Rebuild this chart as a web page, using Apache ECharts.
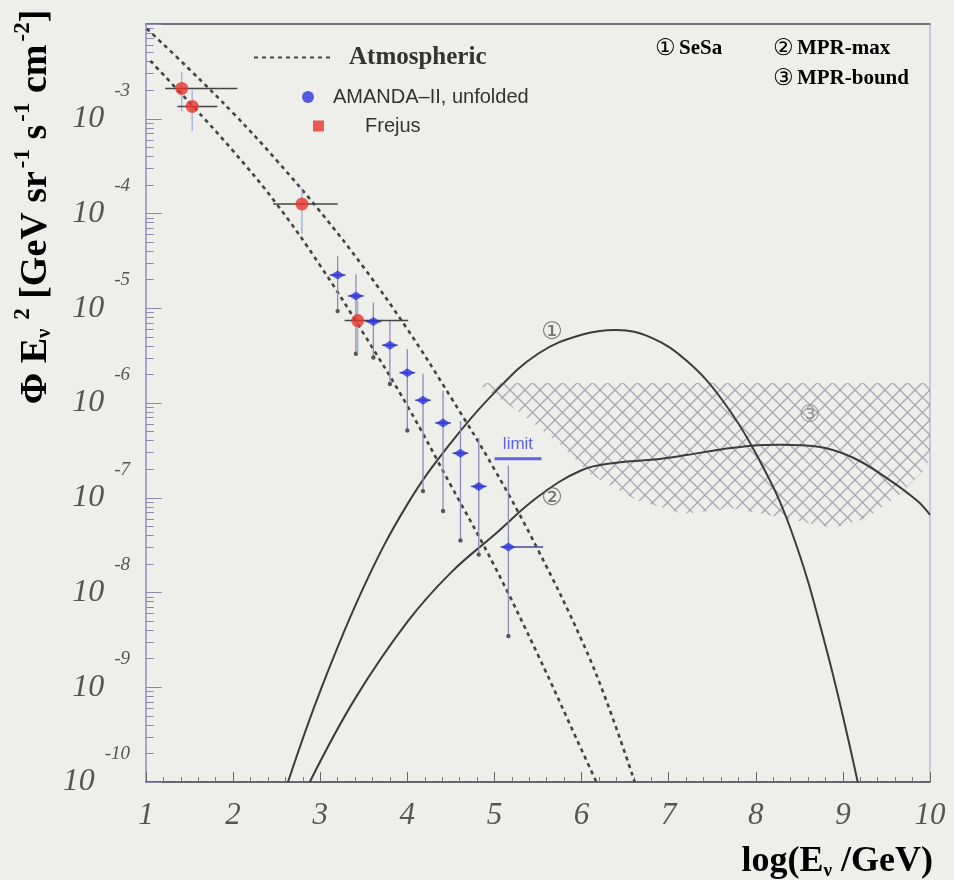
<!DOCTYPE html>
<html><head><meta charset="utf-8">
<script src="https://cdn.jsdelivr.net/npm/echarts@6/dist/echarts.min.js"></script>
<style>html,body{margin:0;padding:0;background:#eeeeea}#c{width:954px;height:880px}</style>
</head><body><div id="c"></div><script>
// ---- axis structure ----
const xTickValues = [1,2,3,4,5,6,7,8,9,10];
const yDecades = [-10,-9,-8,-7,-6,-5,-4,-3,-2];
const yMinorFactors = [2,3,4,5,6,7,8,9];

// ---- Atmospheric band (x = log10(E/GeV), y = log10 flux) ----
const atmosHighX = [1.01,1.5,2.0,2.5,3.0,3.5,4.0,4.5,5.0,5.5,6.0,6.3,6.61];
const atmosHighY = [-2.05,-2.48,-2.94,-3.44,-3.98,-4.57,-5.22,-5.94,-6.70,-7.55,-8.50,-9.18,-10.0];
const atmosLowX = [1.05,1.5,2.0,2.5,3.0,3.5,4.0,4.5,5.0,5.5,6.0,6.17];
const atmosLowY = [-2.39,-2.83,-3.34,-3.90,-4.55,-5.27,-6.03,-6.87,-7.72,-8.66,-9.66,-10.0];

// ---- Model curves ----
const sesaX = [2.63,3.0,3.5,4.0,4.5,5.0,5.5,6.0,6.4,6.8,7.2,7.6,8.0,8.4,8.8,9.17];
const sesaY = [-10.0,-9.04,-7.94,-7.07,-6.42,-5.89,-5.48,-5.28,-5.23,-5.31,-5.55,-5.95,-6.53,-7.33,-8.56,-10.0];
const mprMaxX = [2.88,3.4,4.0,4.5,5.0,5.5,6.0,6.4,6.8,7.2,7.6,7.95,8.3,8.7,9.1,9.5,9.85,10.0];
const mprMaxY = [-10.0,-9.12,-8.31,-7.79,-7.39,-6.99,-6.71,-6.63,-6.60,-6.55,-6.49,-6.45,-6.44,-6.46,-6.57,-6.79,-7.03,-7.18];

// ---- MPR-bound hatched region ----
const boundX    = [4.80,5.26,5.75,6.10,6.64,7.17,7.74,8.31,8.89,9.28,9.66,9.92,10.0];
const boundHigh = [-5.79,-5.79,-5.79,-5.79,-5.79,-5.79,-5.79,-5.79,-5.79,-5.79,-5.79,-5.79,-5.79];
const boundLow  = [-5.79,-6.08,-6.43,-6.75,-7.03,-7.17,-7.11,-7.21,-7.32,-7.21,-6.96,-6.72,-6.58];

// ---- AMANDA-II unfolded ----
const amandaX   = [3.20,3.41,3.61,3.80,4.00,4.18,4.41,4.61,4.82,5.16];
const amandaY   = [-4.65,-4.87,-5.14,-5.39,-5.68,-5.97,-6.21,-6.53,-6.88,-7.52];
const amandaYLo = [-5.03,-5.48,-5.52,-5.80,-6.29,-6.93,-7.14,-7.45,-7.60,-8.46];
const amandaYHi = [-4.45,-4.64,-4.94,-5.13,-5.43,-5.69,-5.87,-6.19,-6.37,-6.66];
const amandaXLo = [3.11,3.32,3.52,3.71,3.91,4.09,4.32,4.52,4.73,5.07];
const amandaXHi = [3.29,3.50,3.70,3.89,4.09,4.27,4.50,4.70,4.91,5.56];

// ---- Frejus ----
const frejusX   = [1.41,1.53,2.79,3.43];
const frejusY   = [-2.68,-2.87,-3.90,-5.13];
const frejusYLo = [-2.92,-3.13,-4.21,-5.48];
const frejusYHi = [-2.51,-2.70,-3.73,-4.92];
const frejusXLo = [1.22,1.36,2.46,3.28];
const frejusXHi = [2.05,1.82,3.20,4.01];

// ---- annotations ----
const tagText = ['①','②','③'];
const tagX = [5.66,5.66,8.62];
const tagY = [-5.26,-7.01,-6.13];
const limitX = 5.27, limitY = -6.45;

const SERIF = '"Liberation Serif","Times New Roman",serif';
const SANS = '"Liberation Sans",Arial,sans-serif';
const CIRC = '"DejaVu Sans","Noto Sans CJK SC",sans-serif';

const minorVals = [];
yDecades.slice(0,-1).forEach(n => yMinorFactors.forEach(k => minorVals.push(n + Math.log10(k))));

const zip = (xs, ys) => xs.map((x,i) => [x, ys[i]]);

// hatch pattern
const pc = document.createElement('canvas');
pc.width = 15; pc.height = 15;
const g = pc.getContext('2d');
g.strokeStyle = 'rgba(110,110,135,0.55)';
g.lineWidth = 1.3;
g.beginPath(); g.moveTo(-1,-1); g.lineTo(16,16); g.moveTo(16,-1); g.lineTo(-1,16); g.stroke();

function errRender(vColor, hColor, endDot) {
  return function (params, api) {
    const x = api.value(0), y = api.value(1);
    const xl = api.value(2), xh = api.value(3), yl = api.value(4), yh = api.value(5);
    const a = api.coord([x, yl]), b = api.coord([x, yh]);
    const l = api.coord([xl, y]), r = api.coord([xh, y]);
    const ch = [
      {type:'line', shape:{x1:a[0],y1:a[1],x2:b[0],y2:b[1]}, style:{stroke:vColor, lineWidth:1.3}},
      {type:'line', shape:{x1:l[0],y1:l[1],x2:r[0],y2:r[1]}, style:{stroke:hColor, lineWidth:1.5}}
    ];
    if (endDot) ch.push({type:'circle', shape:{cx:a[0], cy:a[1], r:2.2}, style:{fill:'#555'}});
    return {type:'group', children: ch};
  };
}

const chart = echarts.init(document.getElementById('c'), null, {renderer:'canvas'});
const lineCommon = {type:'line', symbol:'none', smooth:0.4, clip:true, silent:true};
const legendTextRich = {fontFamily:SERIF, fontWeight:'bold', fontSize:21, color:'#444'};

chart.setOption({
  animation:false,
  backgroundColor:'#eeeeea',
  grid:{left:146, right:24, top:24, bottom:98, show:true, borderColor:'#a4a4d0', borderWidth:1, backgroundColor:'transparent'},
  xAxis:[{
    type:'value', min:1, max:10, interval:1,
    axisLine:{lineStyle:{color:'#444', width:1.5}},
    axisTick:{inside:true, length:10, lineStyle:{color:'#666'}},
    minorTick:{show:true, splitNumber:5, length:5, lineStyle:{color:'#777'}},
    splitLine:{show:false},
    axisLabel:{margin:18, fontFamily:SERIF, fontStyle:'italic', fontSize:31, color:'#555'}
  },{
    type:'value', min:1, max:10, position:'top',
    axisLine:{lineStyle:{color:'#555', width:1.5}},
    axisTick:{show:false}, axisLabel:{show:false}, splitLine:{show:false}
  }],
  yAxis:[{
    type:'value', min:-10, max:-2, interval:1, position:'left',
    axisLine:{lineStyle:{color:'#9a9ac8', width:1.5}},
    axisTick:{inside:true, length:16, lineStyle:{color:'#8a8ab0'}},
    splitLine:{show:false},
    axisLabel:{
      margin:16,
      formatter: v => v >= -2 ? '' : '{b|10}{e|' + v + '}',
      rich:{
        b:{fontFamily:SERIF, fontStyle:'italic', fontSize:32, color:'#555'},
        e:{fontFamily:SERIF, fontStyle:'italic', fontSize:19, color:'#555', padding:[0,0,56,10]}
      }
    }
  },{
    type:'value', min:-10, max:-2, position:'left', offset:0,
    axisLine:{show:false}, axisLabel:{show:false}, splitLine:{show:false},
    axisTick:{show:true, inside:true, length:8, customValues:minorVals, lineStyle:{color:'#8a8ab0'}}
  }],
  legend:[{
    data:[{name:'Atmospheric', itemStyle:{opacity:0}}], left:248, top:40, itemWidth:76, itemHeight:26, selectedMode:false,
    itemStyle:{opacity:0},
    textStyle:{fontFamily:SERIF, fontWeight:'bold', fontSize:25, color:'#333', padding:[0,0,0,14]}
  },{
    data:[{name:'AMANDA–II, unfolded', icon:'circle'}], left:297, top:82, itemWidth:12, itemHeight:12, selectedMode:false,
    textStyle:{fontFamily:SANS, fontSize:20, color:'#333', padding:[0,0,0,14]}
  },{
    data:[{name:'Frejus', icon:'rect'}], left:308, top:111, itemWidth:11, itemHeight:11, selectedMode:false,
    textStyle:{fontFamily:SANS, fontSize:20, color:'#333', padding:[0,0,0,36]}
  }],
  graphic:[
    {type:'text', x:36, y:207, rotation:Math.PI/2, style:{
      text:'{n|Φ E}{sub|ν}{sup| 2}{n| [GeV sr}{sup|-1}{n| s}{sup|-1}{n| cm}{sup|-2}{n|]}',
      align:'center', verticalAlign:'middle', textAlign:'center', textVerticalAlign:'middle',
      rich:{
        n:{fontFamily:SERIF, fontWeight:'bold', fontSize:38, color:'#151515'},
        sub:{fontFamily:SERIF, fontWeight:'bold', fontSize:21, color:'#151515', padding:[18,0,0,0]},
        sup:{fontFamily:SERIF, fontWeight:'bold', fontSize:23, color:'#151515', padding:[0,0,26,3]}
      }}},
    {type:'text', x:933, y:862, style:{
      text:'{n|log(E}{sub|ν}{n| /GeV)}',
      align:'right', verticalAlign:'middle', textAlign:'right', textVerticalAlign:'middle',
      rich:{
        n:{fontFamily:SERIF, fontWeight:'bold', fontSize:36, color:'#151515'},
        sub:{fontFamily:SERIF, fontWeight:'bold', fontSize:19, color:'#151515', padding:[18,0,0,0]}
      }}},
    {type:'text', x:655, y:49, style:{
      text:'{c|①} {t|SeSa}', align:'left', verticalAlign:'middle', textAlign:'left', textVerticalAlign:'middle',
      rich:{c:{fontFamily:CIRC, fontSize:23, color:'#666'}, t:legendTextRich}}},
    {type:'text', x:773, y:49, style:{
      text:'{c|②} {t|MPR-max}', align:'left', verticalAlign:'middle', textAlign:'left', textVerticalAlign:'middle',
      rich:{c:{fontFamily:CIRC, fontSize:23, color:'#666'}, t:legendTextRich}}},
    {type:'text', x:773, y:79, style:{
      text:'{c|③} {t|MPR-bound}', align:'left', verticalAlign:'middle', textAlign:'left', textVerticalAlign:'middle',
      rich:{c:{fontFamily:CIRC, fontSize:23, color:'#666'}, t:legendTextRich}}}
  ],
  series:[
    {
      name:'MPR-bound', type:'custom', silent:true, z:1, clip:true,
      data: boundX.map((x,i) => [x, boundLow[i], boundHigh[i]]),
      encode:{x:0, y:[1,2]},
      renderItem:(params, api) => {
        if (params.dataIndex !== 0) return null;
        const pts = [];
        for (let i = 0; i < boundX.length; i++) pts.push(api.coord([boundX[i], boundHigh[i]]));
        for (let i = boundX.length - 1; i >= 0; i--) pts.push(api.coord([boundX[i], boundLow[i]]));
        return {type:'polygon', shape:{points:pts}, style:{fill:{image:pc, repeat:'repeat'}, stroke:null}};
      }
    },
    Object.assign({}, lineCommon, {name:'Atmospheric', data:zip(atmosHighX, atmosHighY), z:3,
      lineStyle:{color:'#444', width:2.6, type:[4,4]}, itemStyle:{color:'#444'}}),
    Object.assign({}, lineCommon, {name:'Atmospheric', data:zip(atmosLowX, atmosLowY), z:3,
      lineStyle:{color:'#444', width:2.6, type:[4,4]}, itemStyle:{color:'#444'}}),
    Object.assign({}, lineCommon, {name:'SeSa', data:zip(sesaX, sesaY), z:2,
      lineStyle:{color:'#3c3c3c', width:2}}),
    Object.assign({}, lineCommon, {name:'MPR-max', data:zip(mprMaxX, mprMaxY), z:2,
      lineStyle:{color:'#3c3c3c', width:2}}),
    {
      name:'amandaErr', type:'custom', silent:true, z:4, clip:true,
      data: amandaX.map((x,i) => [x, amandaY[i], amandaXLo[i], amandaXHi[i], amandaYLo[i], amandaYHi[i]]),
      encode:{x:[0,2,3], y:[1,4,5]},
      renderItem: errRender('#8c8cb8', '#4a4a9a', true)
    },
    {
      name:'frejusErr', type:'custom', silent:true, z:4, clip:true,
      data: frejusX.map((x,i) => [x, frejusY[i], frejusXLo[i], frejusXHi[i], frejusYLo[i], frejusYHi[i]]),
      encode:{x:[0,2,3], y:[1,4,5]},
      renderItem: errRender('#9fb0d8', '#444', false)
    },
    {
      name:'AMANDA–II, unfolded', type:'scatter', z:5, silent:true,
      symbol:'diamond', symbolSize:[14,9],
      itemStyle:{color:'#2a34e0'},
      data: zip(amandaX, amandaY)
    },
    {
      name:'Frejus', type:'scatter', z:6, silent:true,
      symbol:'circle', symbolSize:13,
      itemStyle:{color:'#e8342a'},
      data: zip(frejusX, frejusY)
    },
    {
      name:'tags', type:'scatter', z:7, silent:true, symbolSize:0,
      data: tagX.map((x,i) => ({value:[x, tagY[i]], label:{formatter:tagText[i], color: i === 2 ? '#8a8a8a' : '#555'}})),
      label:{show:true, position:'inside', fontFamily:CIRC, fontSize:24}
    },
    {
      name:'limit', type:'scatter', z:7, silent:true, symbolSize:0,
      data:[[limitX, limitY]],
      label:{show:true, position:'inside', formatter:'{t|limit}\n{u|}',
        rich:{t:{fontFamily:SANS, fontSize:17, color:'#3a44e0', lineHeight:26, align:'center'},
              u:{height:3, width:47, backgroundColor:'#3a44e0', align:'center'}}}
    }
  ]
});
</script></body></html>
